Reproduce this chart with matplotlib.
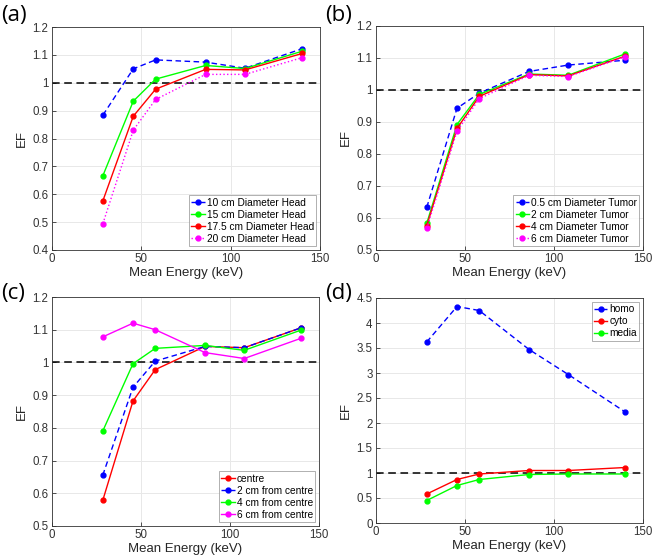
import matplotlib
matplotlib.use("Agg")
import matplotlib.pyplot as plt

energy = [28.5, 45.5, 58, 86, 108, 140]

# (a)
a_labels = ["10 cm Diameter Head", "15 cm Diameter Head", "17.5 cm Diameter Head", "20 cm Diameter Head"]
a_10 = [0.884, 1.050, 1.082, 1.074, 1.052, 1.122]
a_15 = [0.667, 0.934, 1.013, 1.062, 1.051, 1.113]
a_175 = [0.577, 0.880, 0.977, 1.048, 1.046, 1.105]
a_20 = [0.495, 0.830, 0.940, 1.030, 1.030, 1.090]

# (b)
b_labels = ["0.5 cm Diameter Tumor", "2 cm Diameter Tumor", "4 cm Diameter Tumor", "6 cm Diameter Tumor"]
b_05 = [0.633, 0.943, 0.990, 1.058, 1.078, 1.093]
b_2 = [0.583, 0.892, 0.986, 1.050, 1.046, 1.113]
b_4 = [0.576, 0.880, 0.980, 1.048, 1.044, 1.106]
b_6 = [0.568, 0.871, 0.973, 1.046, 1.042, 1.104]

# (c)
c_labels = ["centre", "2 cm from centre", "4 cm from centre", "6 cm from centre"]
c_0 = [0.578, 0.882, 0.978, 1.049, 1.045, 1.106]
c_2 = [0.655, 0.924, 1.004, 1.049, 1.045, 1.106]
c_4 = [0.790, 0.996, 1.043, 1.052, 1.037, 1.099]
c_6 = [1.078, 1.120, 1.100, 1.030, 1.012, 1.074]

# (d)
d_labels = ["homo", "cyto", "media"]
d_homo = [3.62, 4.33, 4.25, 3.47, 2.97, 2.22]
d_cyto = [0.58, 0.87, 0.98, 1.05, 1.05, 1.11]
d_media = [0.45, 0.75, 0.87, 0.97, 0.98, 0.98]

plt.rcParams['font.family'] = ['Liberation Sans', 'DejaVu Sans']

fig = plt.figure(figsize=(6.57, 5.58), dpi=100)
W, H = 657, 558

def mkax(l, t, r, b):
    return fig.add_axes([l / W, 1 - b / H, (r - l) / W, (b - t) / H])

BLUE, GREEN, RED, MAG = "#0000ff", "#00ff00", "#ff0000", "#ff00ff"

def style(ax, ylim, yticks, yticklabels):
    ax.set_xlim(0, 150)
    ax.set_xticks([0, 50, 100, 150])
    ax.set_ylim(*ylim)
    ax.set_yticks(yticks)
    ax.set_yticklabels(yticklabels)
    ax.grid(True, color="#e8e8e8", linewidth=0.7)
    ax.set_axisbelow(True)
    ax.tick_params(direction="in", length=3, labelsize=8.3, colors="#333333", width=0.6, pad=2.5)
    for s in ax.spines.values():
        s.set_color("#333333")
        s.set_linewidth(0.6)
    ax.set_xlabel("Mean Energy (keV)", fontsize=9.5, color="#262626", labelpad=1)
    ax.set_ylabel("EF", fontsize=9.5, color="#262626", labelpad=3)
    ax.axhline(1.0, color="black", linestyle=(0, (5, 3)), linewidth=1.1, zorder=1.5)

def line(ax, y, c, ls, lab):
    ax.plot(energy, y, color=c, linestyle=ls, marker="o", markersize=3.5, linewidth=1.0, label=lab)

def legend(ax, loc):
    lg = ax.legend(loc=loc, fontsize=7.3, frameon=True, fancybox=False, edgecolor="#8c8c8c",
                   handlelength=1.3, handletextpad=0.2, borderpad=0.25, labelspacing=0.2,
                   borderaxespad=0.35)
    lg.get_frame().set_linewidth(0.6)

def panel(x, y, s):
    fig.text(x / W, 1 - y / H, s, fontsize=16, family="Open Sans", va="center", ha="left")

# (a)
ax = mkax(52, 27, 320, 250)
style(ax, (0.4, 1.2), [0.4, 0.5, 0.6, 0.7, 0.8, 0.9, 1.0, 1.1, 1.2],
      ["0.4", "0.5", "0.6", "0.7", "0.8", "0.9", "1", "1.1", "1.2"])
line(ax, a_10, BLUE, (0, (4, 2.5)), a_labels[0])
line(ax, a_15, GREEN, "-", a_labels[1])
line(ax, a_175, RED, "-", a_labels[2])
line(ax, a_20, MAG, ":", a_labels[3])
legend(ax, "lower right")
panel(1, 16, "(a)")

# (b)
ax = mkax(376, 26, 643, 250)
style(ax, (0.5, 1.2), [0.5, 0.6, 0.7, 0.8, 0.9, 1.0, 1.1, 1.2],
      ["0.5", "0.6", "0.7", "0.8", "0.9", "1", "1.1", "1.2"])
line(ax, b_05, BLUE, (0, (4, 2.5)), b_labels[0])
line(ax, b_2, GREEN, "-", b_labels[1])
line(ax, b_4, RED, "-", b_labels[2])
line(ax, b_6, MAG, ":", b_labels[3])
legend(ax, "lower right")
panel(325, 16, "(b)")

# (c)
ax = mkax(52, 297, 319, 526)
style(ax, (0.5, 1.2), [0.5, 0.6, 0.7, 0.8, 0.9, 1.0, 1.1, 1.2],
      ["0.5", "0.6", "0.7", "0.8", "0.9", "1", "1.1", "1.2"])
line(ax, c_0, RED, "-", c_labels[0])
line(ax, c_2, BLUE, (0, (4, 2.5)), c_labels[1])
line(ax, c_4, GREEN, "-", c_labels[2])
line(ax, c_6, MAG, "-", c_labels[3])
legend(ax, "lower right")
panel(1, 293, "(c)")

# (d)
ax = mkax(376, 298, 643, 523)
style(ax, (0, 4.5), [0, 0.5, 1, 1.5, 2, 2.5, 3, 3.5, 4, 4.5],
      ["0", "0.5", "1", "1.5", "2", "2.5", "3", "3.5", "4", "4.5"])
line(ax, d_homo, BLUE, (0, (4, 2.5)), d_labels[0])
line(ax, d_cyto, RED, "-", d_labels[1])
line(ax, d_media, GREEN, "-", d_labels[2])
legend(ax, "upper right")
panel(325, 293, "(d)")

fig.savefig("out.png", dpi=100)
